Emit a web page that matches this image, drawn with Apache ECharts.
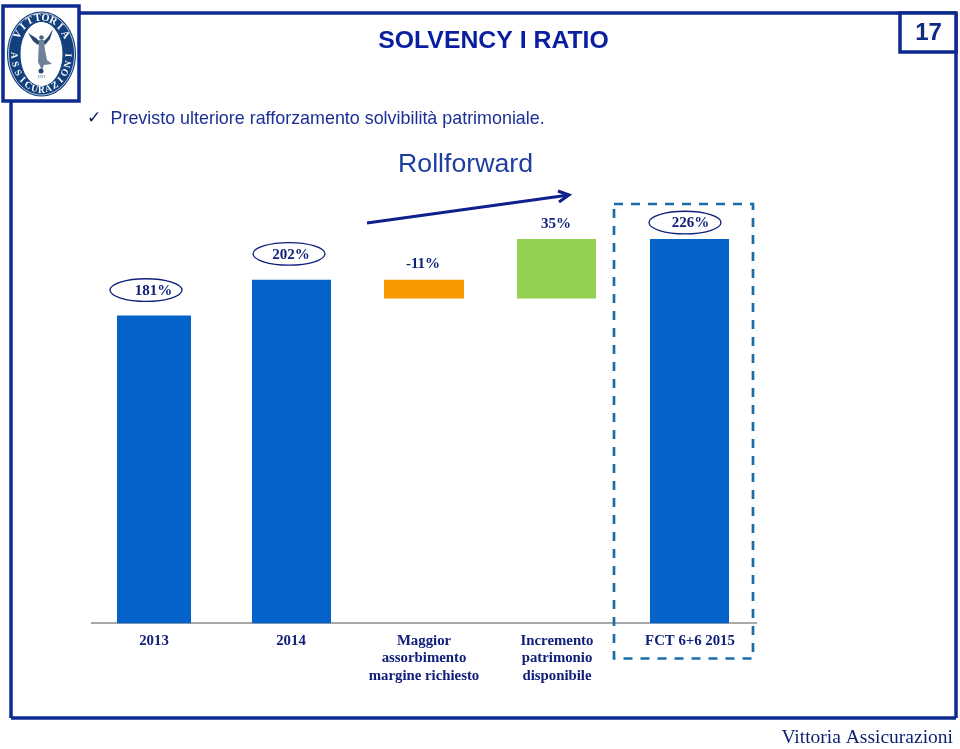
<!DOCTYPE html>
<html>
<head>
<meta charset="utf-8">
<style>html,body{margin:0;padding:0;background:#fff}#c{width:960px;height:749px}</style>
<script src="https://cdn.jsdelivr.net/npm/echarts@6/dist/echarts.min.js"></script>
</head>
<body>
<div id="c"></div>
<script>
const categories = ['2013', '2014', 'Maggior\nassorbimento\nmargine richiesto', 'Incremento\npatrimonio\ndisponibile', 'FCT 6+6 2015'];
const barStart = [0, 0, 191, 191, 0];
const barEnd = [181, 202, 202, 226, 226];
const valueLabels = ['181%', '202%', '-11%', '35%', '226%'];

const NAVY = '#0c2a8f', TXT = '#10207a', BLUE = '#0363c9';
const colors = [BLUE, BLUE, '#f79a00', '#92d14f', BLUE];
const widths = [74, 79, 80, 79, 79];
const barShift = [-4, 0.5, 0, -0.5, -0.5];
const labelShift = [[-4.5, -24.5], [0, -24.5], [-1, -15.5], [-1, -15], [0.5, -15.5]];
const ovalShift = [[-7.5, -1], [-2, -1.5], null, null, [-5.5, -1]];
const SERIF = '"Liberation Serif", serif', SANS = '"Liberation Sans", sans-serif';

function line(x1, y1, x2, y2, w, c, extra) {
  return Object.assign({type: 'line', shape: {x1, y1, x2, y2}, style: {stroke: c || NAVY, lineWidth: w || 3.5}, silent: true}, extra || {});
}
function txt(x, y, text, font, fill, align) {
  return {type: 'text', x, y, silent: true, style: {text, font, fill, textAlign: align || 'left', textVerticalAlign: 'middle', textBaseline: 'middle'}};
}
const g = [];
// slide frame
g.push(line(80, 13, 956, 13), line(956, 13, 956, 718), line(956, 718, 11, 718), line(11, 718, 11, 102));
g.push({type: 'rect', shape: {x: 900, y: 13, width: 56, height: 39}, style: {fill: '#fff', stroke: NAVY, lineWidth: 3.5}, silent: true});
g.push(txt(928.5, 33.5, '17', 'bold 24px ' + SANS, '#0f2a80', 'center'));
g.push({type: 'rect', shape: {x: 3, y: 6, width: 76, height: 95}, style: {fill: '#fff', stroke: NAVY, lineWidth: 3.5}, silent: true});
// logo
const cx = 41.5, cy = 54;
g.push({type: 'ellipse', shape: {cx, cy, rx: 34.5, ry: 42.5}, style: {fill: '#123f7d'}, silent: true});
g.push({type: 'ellipse', shape: {cx, cy, rx: 33, ry: 41}, style: {fill: 'none', stroke: '#dfe8f2', lineWidth: 0.8}, silent: true});
g.push({type: 'ellipse', shape: {cx, cy, rx: 21.5, ry: 32.5}, style: {fill: '#fff', stroke: '#123f7d', lineWidth: 1}, silent: true});
function arcText(str, from, to, size) {
  [...str].forEach((ch, i) => {
    const t = (from + (to - from) * i / (str.length - 1)) * Math.PI / 180;
    const top = from < to;
    g.push({type: 'text', x: cx + 27.7 * Math.sin(t), y: cy - 36.3 * Math.cos(t), rotation: top ? -t : Math.PI - t, silent: true,
      style: {text: ch, font: 'bold ' + size + 'px ' + SERIF, fill: '#fff', textAlign: 'center', textVerticalAlign: 'middle', textBaseline: 'middle'}});
  });
}
arcText('VITTORIA', -58, 58, 10.5);
arcText('ASSICURAZIONI', 268, 92, 9.5);
const poly = (pts, fill) => ({type: 'polygon', shape: {points: pts}, style: {fill}, silent: true});
g.push(poly([[28, 33], [36, 38], [40, 42], [38, 45], [33, 41]], '#27476f'));
g.push(poly([[53, 29], [48, 37], [43, 42], [45, 45], [50, 39]], '#27476f'));
g.push(poly([[39, 40], [44, 40], [45, 50], [47, 60], [52, 64], [44, 65], [42, 70], [38, 62]], '#6f8198'));
g.push({type: 'circle', shape: {cx: 41.5, cy: 37.5, r: 2.3}, style: {fill: '#4a6283'}, silent: true});
g.push({type: 'circle', shape: {cx: 41, cy: 71, r: 2.5}, style: {fill: '#27476f'}, silent: true});
g.push(txt(41.5, 77, '1921', '4px ' + SERIF, '#33506f', 'center'));
// heading texts
g.push(txt(493.5, 41.5, 'SOLVENCY I RATIO', 'bold 24.8px ' + SANS, '#0a1fa0', 'center'));
g.push(txt(87, 119, '✓', '17px "DejaVu Sans"', '#0f2060'));
g.push(txt(110.5, 119.5, 'Previsto ulteriore rafforzamento solvibilità patrimoniale.', '17.9px ' + SANS, '#1c2f96'));
g.push(txt(465.5, 165, 'Rollforward', '26.7px ' + SANS, '#1f3f9e', 'center'));
g.push(txt(953, 737.5, 'Vittoria Assicurazioni', '19.5px ' + SERIF, '#0b1f70', 'right'));
// trend arrow
g.push(line(367, 223, 569, 195, 3, '#10208a'));
g.push({type: 'polyline', shape: {points: [[558, 191], [569, 195], [559, 202]]}, style: {fill: 'none', stroke: '#10208a', lineWidth: 3}, silent: true});
// dashed highlight
g.push({type: 'rect', z: 20, shape: {x: 614, y: 204, width: 139, height: 454.5}, style: {fill: 'none', stroke: '#1a6ea8', lineWidth: 2.7, lineDash: [9, 8]}, silent: true});

const chart = echarts.init(document.getElementById('c'), null, {renderer: 'canvas'});
chart.setOption({
  animation: false,
  backgroundColor: '#fff',
  graphic: {elements: g},
  grid: {left: 91.5, width: 665, top: 198.25, bottom: 125.8},
  xAxis: {
    type: 'category', data: categories,
    axisTick: {show: false},
    axisLine: {lineStyle: {color: '#8c8c8c', width: 1.5}},
    axisLabel: {
      interval: 0, margin: 9, color: TXT, fontFamily: SERIF, fontWeight: 'bold', fontSize: 14.8, lineHeight: 17.5,
      formatter: (v, i) => i === 0 ? '{a|' + v + '}' : v,
      rich: {a: {padding: [0, 8, 0, 0], color: TXT, fontFamily: SERIF, fontWeight: 'bold', fontSize: 14.8, lineHeight: 17.5}}
    }
  },
  yAxis: {type: 'value', min: 0, max: 250, show: false},
  series: [{
    type: 'custom',
    coordinateSystem: 'cartesian2d',
    clip: false,
    encode: {x: 0, y: [1, 2]},
    data: categories.map((c, i) => [i, barStart[i], barEnd[i]]),
    renderItem(params, api) {
      const i = api.value(0);
      const top = api.coord([i, api.value(2)]);
      const bot = api.coord([i, api.value(1)]);
      const w = widths[i], xc = top[0] + barShift[i];
      const kids = [{type: 'rect', shape: {x: xc - w / 2, y: top[1], width: w, height: bot[1] - top[1]}, style: {fill: colors[i]}}];
      const lx = top[0] + labelShift[i][0], ly = top[1] + labelShift[i][1];
      if (ovalShift[i]) {
        kids.push({type: 'ellipse', shape: {cx: lx + ovalShift[i][0], cy: ly + ovalShift[i][1], rx: 36, ry: 11.3}, style: {fill: 'none', stroke: '#10207a', lineWidth: 1.3}});
      }
      kids.push({type: 'text', x: lx, y: ly, style: {text: valueLabels[i], font: 'bold 15px ' + SERIF, fill: TXT, textAlign: 'center', textVerticalAlign: 'middle', textBaseline: 'middle'}});
      return {type: 'group', children: kids};
    }
  }]
});
</script>
</body>
</html>
